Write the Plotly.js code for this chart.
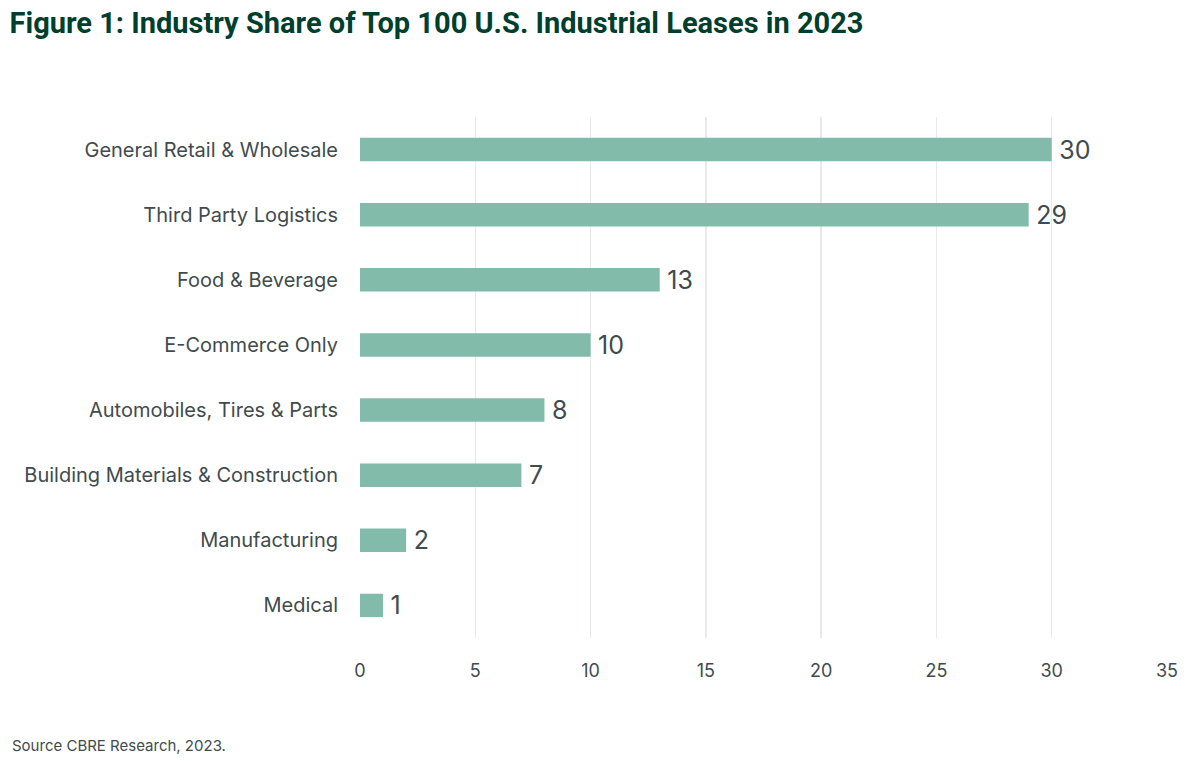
<!DOCTYPE html>
<html>
<head>
<meta charset="utf-8">
<script src="https://cdn.plot.ly/plotly-3.0.1.min.js"></script>
<style>
  html, body { margin: 0; padding: 0; background: #ffffff; }
  #chart { width: 1200px; height: 761px; }
</style>
</head>
<body>
<div id="chart"></div>
<script>
const categories = [
  "General Retail & Wholesale",
  "Third Party Logistics",
  "Food & Beverage",
  "E-Commerce Only",
  "Automobiles, Tires & Parts",
  "Building Materials & Construction",
  "Manufacturing",
  "Medical"
];
const values = [30, 29, 13, 10, 8, 7, 2, 1];
const xTicks = [0, 5, 10, 15, 20, 25, 30, 35];

const trace = {
  type: "bar",
  orientation: "h",
  y: categories,
  x: values,
  marker: { color: "#82BBAA", line: { width: 0 } },
  text: values.map(v => "\u2009" + v),
  textposition: "outside",
  constraintext: "none",
  textfont: { family: "Inter, sans-serif", size: 25, color: "#3f4b4d" },
  cliponaxis: false,
  hoverinfo: "skip"
};

const layout = {
  width: 1200,
  height: 761,
  paper_bgcolor: "#ffffff",
  plot_bgcolor: "#ffffff",
  margin: { l: 360, r: 33, t: 117, b: 123 },
  bargap: 0.64,
  showlegend: false,
  title: {
    text: "<b>Figure 1: Industry Share of Top 100 U.S. Industrial Leases in 2023</b>",
    x: 0.008, xanchor: "left",
    y: 0.97, yanchor: "middle",
    font: { family: "Roboto, sans-serif", size: 29, color: "#003F2D" }
  },
  xaxis: {
    range: [0, 35],
    tickvals: xTicks,
    ticktext: xTicks.map(String),
    showgrid: true,
    gridcolor: "#e6ebea",
    gridwidth: 1.5,
    zeroline: false,
    showline: false,
    ticks: "",
    ticklabelstandoff: 20,
    tickfont: { family: "Inter, sans-serif", size: 18, color: "#3f4b4d" },
    fixedrange: true
  },
  yaxis: {
    autorange: "reversed",
    showgrid: false,
    zeroline: false,
    showline: false,
    ticks: "",
    ticklabelstandoff: 21,
    tickfont: { family: "Inter, sans-serif", size: 20, color: "#3f4b4d" },
    fixedrange: true
  },
  annotations: [{
    text: "Source CBRE Research, 2023.",
    xref: "paper", yref: "paper",
    x: -350/807, y: -(745-638)/521,
    xanchor: "left", yanchor: "middle",
    showarrow: false,
    font: { family: "Inter, sans-serif", size: 15, color: "#3f4b4d" }
  }]
};

Plotly.newPlot("chart", [trace], layout, { displayModeBar: false, staticPlot: true });
</script>
</body>
</html>
